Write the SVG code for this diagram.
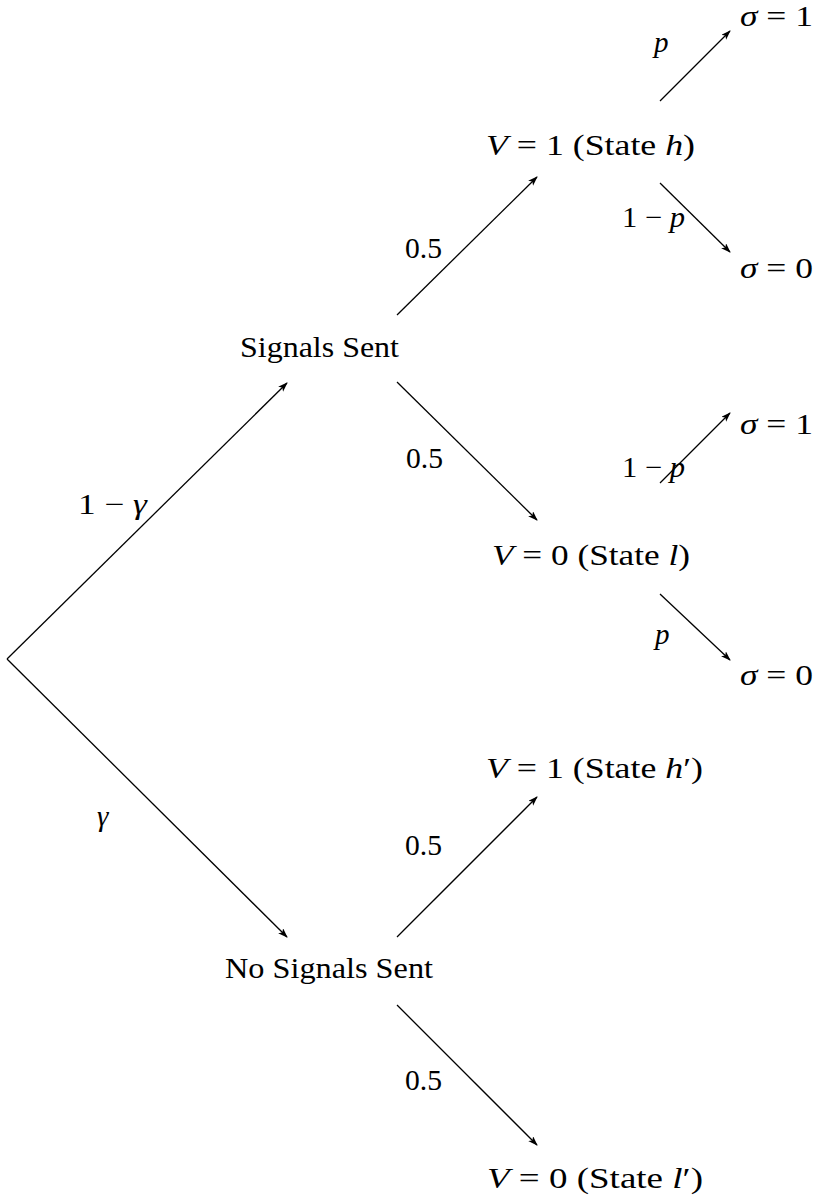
<svg xmlns="http://www.w3.org/2000/svg" width="822" height="1195" viewBox="0 0 822 1195">
<style>
.t text{font-size:29px;fill:#000}
.i{font-style:italic}
.c line{stroke:#000;stroke-width:1.3;fill:none}
.a{marker-end:url(#ah)}
</style>
<defs>
<marker id="ah" markerUnits="userSpaceOnUse" markerWidth="10" markerHeight="8" refX="9" refY="3.5" orient="auto">
<path d="M0,0 L10,3.5 L0,7 L2.5,3.5 z" fill="#000"/>
</marker>
</defs>
<rect width="822" height="1195" fill="#fff"/>
<g class="c" id="connectors">
<line class="a" x1="7" y1="659" x2="287" y2="383"/>
<line class="a" x1="7" y1="659" x2="287" y2="937"/>
<line class="a" x1="397" y1="315" x2="537" y2="177"/>
<line class="a" x1="397" y1="382" x2="537" y2="520"/>
<line class="a" x1="660" y1="101" x2="730" y2="31"/>
<line class="a" x1="660" y1="183" x2="730" y2="252"/>
<line class="a" x1="660" y1="483" x2="730" y2="413"/>
<line class="a" x1="660" y1="594" x2="730" y2="660"/>
<line class="a" x1="397" y1="937" x2="537" y2="797"/>
<line class="a" x1="397" y1="1005" x2="537" y2="1145"/>
</g>
<g class="t" font-family="'Liberation Serif', 'DejaVu Serif', serif">
<g id="labels">
<text x="78" y="514" textLength="69" lengthAdjust="spacingAndGlyphs">1 − <tspan class="i">γ</tspan></text>
<text x="97" y="826" class="i">γ</text>
<text x="405" y="258" textLength="37" lengthAdjust="spacingAndGlyphs">0.5</text>
<text x="406" y="468" textLength="37" lengthAdjust="spacingAndGlyphs">0.5</text>
<text x="405" y="855" textLength="37" lengthAdjust="spacingAndGlyphs">0.5</text>
<text x="405" y="1090" textLength="37" lengthAdjust="spacingAndGlyphs">0.5</text>
<text x="654" y="52" class="i">p</text>
<text x="622" y="227" textLength="63" lengthAdjust="spacingAndGlyphs">1 − <tspan class="i">p</tspan></text>
<text x="622" y="477" textLength="63" lengthAdjust="spacingAndGlyphs">1 − <tspan class="i">p</tspan></text>
<text x="655" y="644" class="i">p</text>
</g>
<g id="n-signals"><text x="240" y="357" textLength="159" lengthAdjust="spacingAndGlyphs">Signals Sent</text></g>
<g id="n-nosignals"><text x="225" y="978" textLength="208" lengthAdjust="spacingAndGlyphs">No Signals Sent</text></g>
<g id="n-h"><text x="486" y="155" textLength="209" lengthAdjust="spacingAndGlyphs"><tspan class="i">V</tspan> = 1 (State <tspan class="i">h</tspan>)</text></g>
<g id="n-l"><text x="492" y="565" textLength="198" lengthAdjust="spacingAndGlyphs"><tspan class="i">V</tspan> = 0 (State <tspan class="i">l</tspan>)</text></g>
<g id="n-hp"><text x="486" y="778" textLength="217" lengthAdjust="spacingAndGlyphs"><tspan class="i">V</tspan> = 1 (State <tspan class="i">h</tspan>′)</text></g>
<g id="n-lp"><text x="487" y="1188" textLength="216" lengthAdjust="spacingAndGlyphs"><tspan class="i">V</tspan> = 0 (State <tspan class="i">l</tspan>′)</text></g>
<g id="n-s1a"><text x="740" y="26" textLength="73" lengthAdjust="spacingAndGlyphs"><tspan class="i">σ</tspan> = 1</text></g>
<g id="n-s0a"><text x="740" y="278" textLength="73" lengthAdjust="spacingAndGlyphs"><tspan class="i">σ</tspan> = 0</text></g>
<g id="n-s1b"><text x="740" y="434" textLength="73" lengthAdjust="spacingAndGlyphs"><tspan class="i">σ</tspan> = 1</text></g>
<g id="n-s0b"><text x="740" y="685" textLength="73" lengthAdjust="spacingAndGlyphs"><tspan class="i">σ</tspan> = 0</text></g>
</g>
</svg>
